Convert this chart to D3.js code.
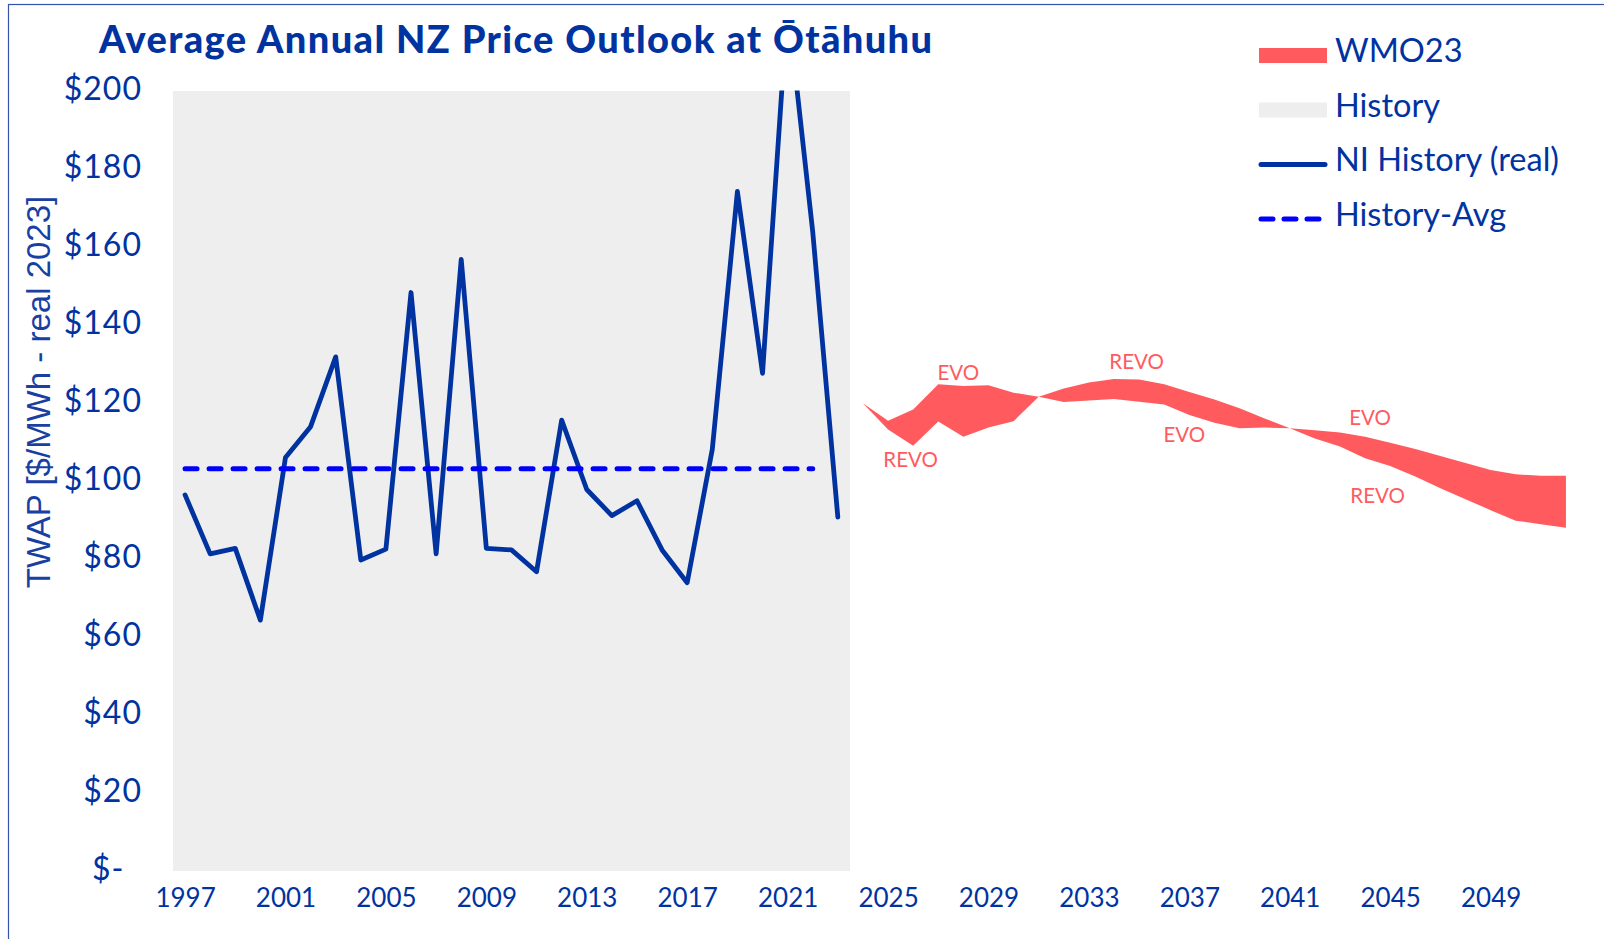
<!DOCTYPE html>
<html>
<head>
<meta charset="utf-8">
<script src="https://cdn.jsdelivr.net/npm/d3@7"></script>
<style>
  body { margin: 0; background: #fff; }
  text { font-family: Lato, "Noto Sans", sans-serif; }
</style>
</head>
<body>
<script>
// values
var years = d3.range(1997, 2053);
var historyYears = d3.range(1997, 2024);
var historyValues = [96.3, 81.2, 82.6, 64.2, 105.9, 113.8, 131.7, 79.6, 82.4, 148.2,
                     81.2, 156.7, 82.6, 82.2, 76.6, 115.5, 97.7, 91.0, 94.8, 82.2,
                     73.8, 108.0, 174.1, 127.5, 222.0, 163.8, 90.6];
var avgYears = d3.range(1997, 2023);
var historyAvg = 103.0;
var outlookYears = d3.range(2024, 2053);
var evoValues = [119.8, 115.3, 118.2, 124.7, 124.2, 124.4, 122.5, 121.5, 120.1, 120.5,
                 120.9, 120.2, 119.5, 116.8, 114.8, 113.4, 113.6, 113.4, 112.9, 112.3,
                 111.2, 109.7, 108.1, 106.3, 104.5, 102.7, 101.6, 101.2, 101.2];
var revoValues = [119.8, 113.1, 108.9, 115.1, 111.2, 113.6, 115.2, 121.5, 123.6, 125.1,
                  126.0, 125.9, 124.7, 122.7, 120.8, 118.5, 115.9, 113.4, 110.8, 108.7,
                  105.7, 103.7, 101.0, 98.0, 95.2, 92.4, 89.7, 88.8, 87.9];
var yTicks = [0, 20, 40, 60, 80, 100, 120, 140, 160, 180, 200];
var xTickYears = [1997, 2001, 2005, 2009, 2013, 2017, 2021, 2025, 2029, 2033, 2037, 2041, 2045, 2049];
var labelText = ["EVO", "REVO", "REVO", "EVO", "EVO", "REVO"];
var labelYears = [2027.8, 2025.9, 2034.9, 2036.8, 2044.2, 2044.5];
var labelValues = [125.8, 103.5, 128.5, 110.0, 114.2, 94.2];
var legendNames = ["WMO23", "History", "NI History (real)", "History-Avg"];

var W = 1604, H = 939;
var margin = {top: 90.5, left: 172.5, right: 25.5, bottom: 68.5};
var navy = "#0033a0", coral = "#ff5b5f";

var svg = d3.select("body").append("svg")
    .attr("width", W)
    .attr("height", H);

var x = d3.scaleLinear()
    .domain([years[0] - 0.5, years[years.length - 1] + 0.5])
    .range([margin.left, W - margin.right]);
var y = d3.scaleLinear()
    .domain([0, 200])
    .range([H - margin.bottom, margin.top]);

// frame
svg.append("rect")
    .attr("x", 8.5).attr("y", 4.5)
    .attr("width", W).attr("height", H)
    .attr("fill", "none")
    .attr("stroke", "#3653a8")
    .attr("stroke-width", 1.2);

// grey history columns
svg.append("g")
    .attr("shape-rendering", "crispEdges")
  .selectAll("rect")
  .data(historyYears)
  .enter().append("rect")
    .attr("x", function(d) { return x(d - 0.5); })
    .attr("y", y(200))
    .attr("width", function(d) { return x(d + 0.5) - x(d - 0.5); })
    .attr("height", y(0) - y(200))
    .attr("fill", "#eeeeee");

// outlook band between EVO and REVO
var band = outlookYears.map(function(yr, i) {
  return {year: yr, evo: evoValues[i], revo: revoValues[i]};
});
svg.append("path")
    .datum(band)
    .attr("fill", coral)
    .attr("d", d3.area()
      .x(function(d) { return x(d.year); })
      .y0(function(d) { return y(d.evo); })
      .y1(function(d) { return y(d.revo); }));

svg.selectAll(".blabel")
  .data(labelText)
  .enter().append("text")
    .attr("class", "blabel")
    .attr("x", function(d, i) { return x(labelYears[i]); })
    .attr("y", function(d, i) { return y(labelValues[i]); })
    .attr("text-anchor", "middle")
    .attr("fill", coral)
    .style("font-size", "20.5px")
    .text(function(d) { return d; });

// history line, clipped at the top of the plot
svg.append("clipPath").attr("id", "plotclip")
  .append("rect")
    .attr("x", 0).attr("y", y(200))
    .attr("width", W).attr("height", H);

var hist = historyYears.map(function(yr, i) { return {year: yr, v: historyValues[i]}; });
var linegenerator = d3.line()
    .x(function(d) { return x(d.year); })
    .y(function(d) { return y(d.v); });

svg.append("path")
    .datum(hist)
    .attr("clip-path", "url(#plotclip)")
    .attr("fill", "none")
    .attr("stroke", navy)
    .attr("stroke-width", 4.8)
    .attr("stroke-linejoin", "round")
    .attr("stroke-linecap", "round")
    .attr("d", linegenerator);

// history average
svg.append("path")
    .datum(avgYears.map(function(yr) { return {year: yr, v: historyAvg}; }))
    .attr("fill", "none")
    .attr("stroke", "#0000ff")
    .attr("stroke-width", 5)
    .attr("stroke-dasharray", "12,12")
    .attr("stroke-linecap", "round")
    .attr("d", linegenerator);

// y axis
var yAxis = svg.append("g")
    .attr("transform", "translate(" + margin.left + ",0)")
    .call(d3.axisLeft(y).tickValues(yTicks).tickSize(0).tickPadding(30.5)
      .tickFormat(function(d) { return d === 0 ? "$-" : "$" + d; }));
yAxis.select(".domain").remove();
yAxis.selectAll("text")
    .attr("dy", "0.29em")
    .attr("fill", navy)
    .style("font-family", "Lato, sans-serif")
    .style("font-size", "32px")
    .style("letter-spacing", "1px");
yAxis.selectAll("text").filter(function(d) { return d === 0; }).attr("dx", "-0.55em");

// x axis
var xAxis = svg.append("g")
    .attr("transform", "translate(0," + y(0) + ")")
    .call(d3.axisBottom(x).tickValues(xTickYears).tickSize(0).tickFormat(d3.format("d")));
xAxis.select(".domain").remove();
xAxis.selectAll("text")
    .attr("y", 36).attr("dy", 0)
    .attr("fill", navy)
    .style("font-family", "Lato, sans-serif")
    .style("font-size", "26px");

// y axis title
svg.append("text")
    .attr("transform", "translate(50,392) rotate(-90)")
    .attr("text-anchor", "middle")
    .attr("fill", "#1a3fa3")
    .style("font-family", "'Liberation Sans', Arial, sans-serif")
    .style("font-size", "33px")
    .text("TWAP [$/MWh - real 2023]");

// title
svg.append("text")
    .attr("x", 99).attr("y", 53)
    .attr("fill", navy)
    .style("font-size", "38px")
    .style("font-weight", 900)
    .style("letter-spacing", "1.4px")
    .text("Average Annual NZ Price Outlook at Ōtāhuhu");

// legend
var legend = svg.append("g").attr("transform", "translate(1259,55.5)");
var rows = legend.selectAll("g")
  .data(legendNames)
  .enter().append("g")
    .attr("transform", function(d, i) { return "translate(0," + (i * 54.5) + ")"; });

rows.filter(function(d, i) { return i < 2; }).append("rect")
    .attr("x", 0).attr("y", -7.5)
    .attr("width", 68).attr("height", 15)
    .attr("fill", function(d, i) { return i === 0 ? coral : "#eeeeee"; });
rows.filter(function(d, i) { return i >= 2; }).append("line")
    .attr("x1", 2).attr("x2", 66)
    .attr("stroke", function(d, i) { return i === 0 ? navy : "#0000ff"; })
    .attr("stroke-width", 5)
    .attr("stroke-linecap", "round")
    .attr("stroke-dasharray", function(d, i) { return i === 0 ? null : "12,11"; });
rows.append("text")
    .attr("x", 76).attr("y", 6.5)
    .attr("fill", navy)
    .style("font-size", "32.5px")
    .text(function(d) { return d; });
</script>
</body>
</html>
